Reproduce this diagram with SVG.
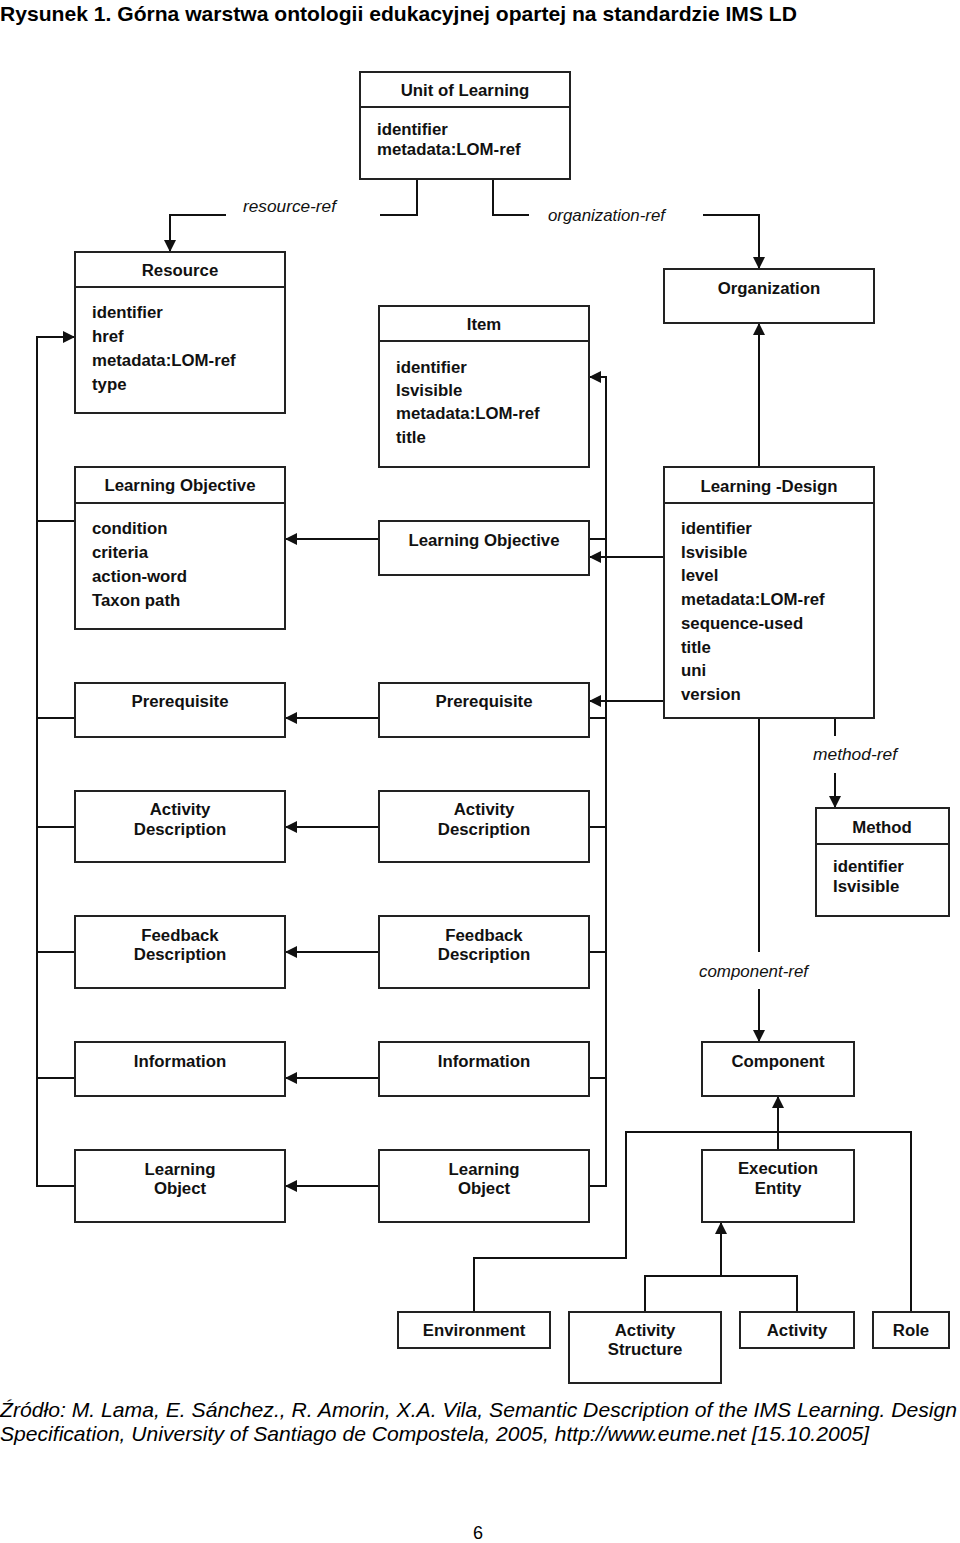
<svg xmlns="http://www.w3.org/2000/svg" width="960" height="1543" viewBox="0 0 960 1543">
<defs>
<marker id="ah" markerUnits="userSpaceOnUse" markerWidth="13" markerHeight="12" refX="12" refY="6" orient="auto">
<path d="M0,0 L12,6 L0,12 z" fill="#111"/>
</marker>
<style>
.box{fill:#fff;stroke:#222;stroke-width:2}
.div{stroke:#222;stroke-width:2}
.t{font-family:"Liberation Sans",Arial,sans-serif;font-size:16.8px;font-weight:bold;fill:#111}
.c{text-anchor:middle}
.lbl{font-family:"Liberation Sans",Arial,sans-serif;font-size:16.5px;font-style:italic;fill:#111}
.ln{fill:none;stroke:#111;stroke-width:2}
.ar{fill:none;stroke:#111;stroke-width:2;marker-end:url(#ah)}
.cap{font-family:"Liberation Sans Narrow","Liberation Sans",Arial,sans-serif;fill:#000}
</style>
</defs>
<rect width="960" height="1543" fill="#fff"/>
<text class="cap" x="0" y="21" font-size="21" font-weight="bold" textLength="797" lengthAdjust="spacingAndGlyphs">Rysunek 1. Górna warstwa ontologii edukacyjnej opartej na standardzie IMS LD</text>

<g id="connectors">
<path class="ln" d="M417,179 V215 H380"/>
<path class="ar" d="M226,215 H170 V252"/>
<text class="lbl" x="243" y="212" textLength="93" lengthAdjust="spacingAndGlyphs">resource-ref</text>
<path class="ln" d="M493,179 V215 H529"/>
<path class="ar" d="M703,215 H759 V269"/>
<text class="lbl" x="548" y="221" textLength="117" lengthAdjust="spacingAndGlyphs">organization-ref</text>
<path class="ar" d="M759,467 V323"/>
<path class="ar" d="M75,1186 H37 V337 H75"/>
<path class="ln" d="M37,521 H75 M37,718 H75 M37,827 H75 M37,952 H75 M37,1078 H75"/>
<path class="ar" d="M589,1186 H606 V377 H589"/>
<path class="ln" d="M589,539 H606 M589,718 H606 M589,827 H606 M589,952 H606 M589,1078 H606"/>
<path class="ar" d="M379,539 H285"/>
<path class="ar" d="M379,718 H285"/>
<path class="ar" d="M379,827 H285"/>
<path class="ar" d="M379,952 H285"/>
<path class="ar" d="M379,1078 H285"/>
<path class="ar" d="M379,1186 H285"/>
<path class="ar" d="M664,557 H589"/>
<path class="ar" d="M664,701 H589"/>
<path class="ln" d="M835,718 V736"/>
<text class="lbl" x="813" y="760" textLength="84" lengthAdjust="spacingAndGlyphs">method-ref</text>
<path class="ar" d="M835,773 V808"/>
<path class="ln" d="M759,718 V952"/>
<text class="lbl" x="699" y="977" textLength="109" lengthAdjust="spacingAndGlyphs">component-ref</text>
<path class="ar" d="M759,989 V1042"/>
<path class="ar" d="M778,1150 V1096"/>
<path class="ln" d="M474,1312 V1258 H626 V1132 H911 V1312"/>
<path class="ln" d="M645,1312 V1276 H797 V1312"/>
<path class="ar" d="M721,1276 V1222"/>
</g>

<g id="unit-of-learning">
<rect class="box" x="360" y="72" width="210" height="107"/>
<line class="div" x1="360" y1="107" x2="570" y2="107"/>
<text class="t c" x="465" y="96">Unit of Learning</text>
<text class="t" x="377" y="135">identifier</text>
<text class="t" x="377" y="155">metadata:LOM-ref</text>
</g>
<g id="resource">
<rect class="box" x="75" y="252" width="210" height="161"/>
<line class="div" x1="75" y1="287" x2="285" y2="287"/>
<text class="t c" x="180" y="276">Resource</text>
<text class="t" x="92" y="318">identifier</text>
<text class="t" x="92" y="342">href</text>
<text class="t" x="92" y="366">metadata:LOM-ref</text>
<text class="t" x="92" y="390">type</text>
</g>
<g id="item">
<rect class="box" x="379" y="306" width="210" height="161"/>
<line class="div" x1="379" y1="341" x2="589" y2="341"/>
<text class="t c" x="484" y="330">Item</text>
<text class="t" x="396" y="373">identifier</text>
<text class="t" x="396" y="396">Isvisible</text>
<text class="t" x="396" y="419">metadata:LOM-ref</text>
<text class="t" x="396" y="443">title</text>
</g>
<g id="organization">
<rect class="box" x="664" y="269" width="210" height="54"/>
<text class="t c" x="769" y="294">Organization</text>
</g>
<g id="learning-objective-left">
<rect class="box" x="75" y="467" width="210" height="162"/>
<line class="div" x1="75" y1="503" x2="285" y2="503"/>
<text class="t c" x="180" y="491">Learning Objective</text>
<text class="t" x="92" y="534">condition</text>
<text class="t" x="92" y="558">criteria</text>
<text class="t" x="92" y="582">action-word</text>
<text class="t" x="92" y="606">Taxon path</text>
</g>
<g id="learning-objective-mid">
<rect class="box" x="379" y="521" width="210" height="54"/>
<text class="t c" x="484" y="546">Learning Objective</text>
</g>
<g id="learning-design">
<rect class="box" x="664" y="467" width="210" height="251"/>
<line class="div" x1="664" y1="503" x2="874" y2="503"/>
<text class="t c" x="769" y="492">Learning -Design</text>
<text class="t" x="681" y="534">identifier</text>
<text class="t" x="681" y="558">Isvisible</text>
<text class="t" x="681" y="581">level</text>
<text class="t" x="681" y="605">metadata:LOM-ref</text>
<text class="t" x="681" y="629">sequence-used</text>
<text class="t" x="681" y="653">title</text>
<text class="t" x="681" y="676">uni</text>
<text class="t" x="681" y="700">version</text>
</g>
<g id="prerequisite-left">
<rect class="box" x="75" y="683" width="210" height="54"/>
<text class="t c" x="180" y="707">Prerequisite</text>
</g>
<g id="prerequisite-mid">
<rect class="box" x="379" y="683" width="210" height="54"/>
<text class="t c" x="484" y="707">Prerequisite</text>
</g>
<g id="method">
<rect class="box" x="816" y="808" width="133" height="108"/>
<line class="div" x1="816" y1="844" x2="949" y2="844"/>
<text class="t c" x="882" y="833">Method</text>
<text class="t" x="833" y="872">identifier</text>
<text class="t" x="833" y="892">Isvisible</text>
</g>
<g id="activity-description-left">
<rect class="box" x="75" y="791" width="210" height="71"/>
<text class="t c" x="180" y="815">Activity</text>
<text class="t c" x="180" y="835">Description</text>
</g>
<g id="activity-description-mid">
<rect class="box" x="379" y="791" width="210" height="71"/>
<text class="t c" x="484" y="815">Activity</text>
<text class="t c" x="484" y="835">Description</text>
</g>
<g id="feedback-description-left">
<rect class="box" x="75" y="916" width="210" height="72"/>
<text class="t c" x="180" y="941">Feedback</text>
<text class="t c" x="180" y="960">Description</text>
</g>
<g id="feedback-description-mid">
<rect class="box" x="379" y="916" width="210" height="72"/>
<text class="t c" x="484" y="941">Feedback</text>
<text class="t c" x="484" y="960">Description</text>
</g>
<g id="information-left">
<rect class="box" x="75" y="1042" width="210" height="54"/>
<text class="t c" x="180" y="1067">Information</text>
</g>
<g id="information-mid">
<rect class="box" x="379" y="1042" width="210" height="54"/>
<text class="t c" x="484" y="1067">Information</text>
</g>
<g id="component">
<rect class="box" x="702" y="1042" width="152" height="54"/>
<text class="t c" x="778" y="1067">Component</text>
</g>
<g id="learning-object-left">
<rect class="box" x="75" y="1150" width="210" height="72"/>
<text class="t c" x="180" y="1175">Learning</text>
<text class="t c" x="180" y="1194">Object</text>
</g>
<g id="learning-object-mid">
<rect class="box" x="379" y="1150" width="210" height="72"/>
<text class="t c" x="484" y="1175">Learning</text>
<text class="t c" x="484" y="1194">Object</text>
</g>
<g id="execution-entity">
<rect class="box" x="702" y="1150" width="152" height="72"/>
<text class="t c" x="778" y="1174">Execution</text>
<text class="t c" x="778" y="1194">Entity</text>
</g>
<g id="environment">
<rect class="box" x="398" y="1312" width="152" height="36"/>
<text class="t c" x="474" y="1336">Environment</text>
</g>
<g id="activity-structure">
<rect class="box" x="569" y="1312" width="152" height="71"/>
<text class="t c" x="645" y="1336">Activity</text>
<text class="t c" x="645" y="1355">Structure</text>
</g>
<g id="activity">
<rect class="box" x="740" y="1312" width="114" height="36"/>
<text class="t c" x="797" y="1336">Activity</text>
</g>
<g id="role">
<rect class="box" x="873" y="1312" width="76" height="36"/>
<text class="t c" x="911" y="1336">Role</text>
</g>

<text class="cap" x="0" y="1417" font-size="21" font-style="italic" textLength="957" lengthAdjust="spacingAndGlyphs">Źródło: M. Lama, E. Sánchez., R. Amorin, X.A. Vila, Semantic Description of the IMS Learning. Design</text>
<text class="cap" x="0" y="1441" font-size="21" font-style="italic" textLength="869" lengthAdjust="spacingAndGlyphs">Specification, University of Santiago de Compostela, 2005, http://www.eume.net [15.10.2005]</text>
<text class="cap" x="478" y="1539" font-size="18" text-anchor="middle">6</text>
</svg>
